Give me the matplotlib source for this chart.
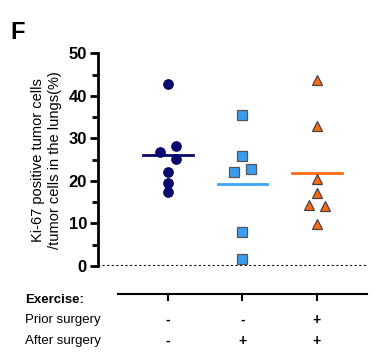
import matplotlib
matplotlib.use("Agg")
import matplotlib.pyplot as plt

plt.rcParams['font.family'] = ['Liberation Sans', 'DejaVu Sans']

groups = [1, 2, 3]
g1_vals = [42.8, 26.8, 28.1, 25.2, 22.2, 19.5, 17.3]
g1_off = [0, -0.11, 0.11, 0.11, 0, 0, 0]
g2_vals = [35.5, 25.8, 22.0, 22.7, 8.0, 1.6]
g2_off = [0, 0, -0.11, 0.11, 0, 0]
g3_vals = [43.8, 32.9, 20.4, 17.1, 14.4, 14.0, 9.8]
g3_off = [0, 0, 0, 0, -0.11, 0.11, 0]

prior = ['-', '-', '+']
after = ['-', '+', '+']
row_labels = ['Exercise:', 'Prior surgery', 'After surgery']

fig = plt.figure(figsize=(3.74, 3.6), dpi=100)
ax = fig.add_axes([0.262, 0.261, 0.719, 0.591])

series = [
    (g1_vals, g1_off, 'o', '#0a0a6e', '#0a0a6e', '#0a0a6e', 6.8),
    (g2_vals, g2_off, 's', '#3a9df0', '#555555', '#3aa6f5', 6.5),
    (g3_vals, g3_off, '^', '#ff6a10', '#444444', '#ff6a10', 7.2),
]
for g, (vals, off, mk, fc, ec, lc, ms) in zip(groups, series):
    xs = [g + o for o in off]
    ax.plot(xs, vals, linestyle='none', marker=mk, markersize=ms,
            markerfacecolor=fc, markeredgecolor=ec, markeredgewidth=0.9,
            clip_on=False, zorder=3)
    m = sum(vals) / len(vals)
    ax.plot([g - 0.33, g + 0.33], [m, m], color=lc, lw=2, zorder=2)

ax.set_xlim(0.06, 3.67)
ax.set_ylim(0, 50)
ax.axhline(0, color='black', lw=1.5, linestyle=(0, (1, 1.2)))
ax.set_yticks([0, 10, 20, 30, 40, 50])
ax.set_yticks([5, 15, 25, 35, 45], minor=True)
ax.tick_params(axis='y', which='major', width=2, length=6, labelsize=12, pad=2)
ax.tick_params(axis='y', which='minor', width=2, length=4)
for lab in ax.get_yticklabels():
    lab.set_fontweight('bold')
ax.set_xticks([])
for s in ['top', 'right', 'bottom']:
    ax.spines[s].set_visible(False)
ax.spines['left'].set_linewidth(2)
ax.set_ylabel('Ki-67 positive tumor cells\n/tumor cells in the lungs(%)',
              fontsize=10.5, labelpad=5)

# condition table below the plot
ax.plot([0.33, 3.67], [-6.6, -6.6], color='black', lw=1.5, clip_on=False)
for g, p, a in zip(groups, prior, after):
    ax.plot([g, g], [-6.6, -8.0], color='black', lw=1.5, clip_on=False)
    ax.text(g, -12.7, p, ha='center', va='center', fontsize=10, fontweight='bold')
    ax.text(g, -17.6, a, ha='center', va='center', fontsize=10, fontweight='bold')

ax.text(-0.92, -8.0, row_labels[0], ha='left', va='center',
        fontsize=9.5, fontweight='bold')
ax.text(-0.92, -12.7, row_labels[1], ha='left', va='center', fontsize=9.5)
ax.text(-0.92, -17.6, row_labels[2], ha='left', va='center', fontsize=9.5)

fig.text(0.027, 0.91, 'F', fontsize=17, fontweight='bold', ha='left', va='center')

fig.savefig('out.png', dpi=100)
